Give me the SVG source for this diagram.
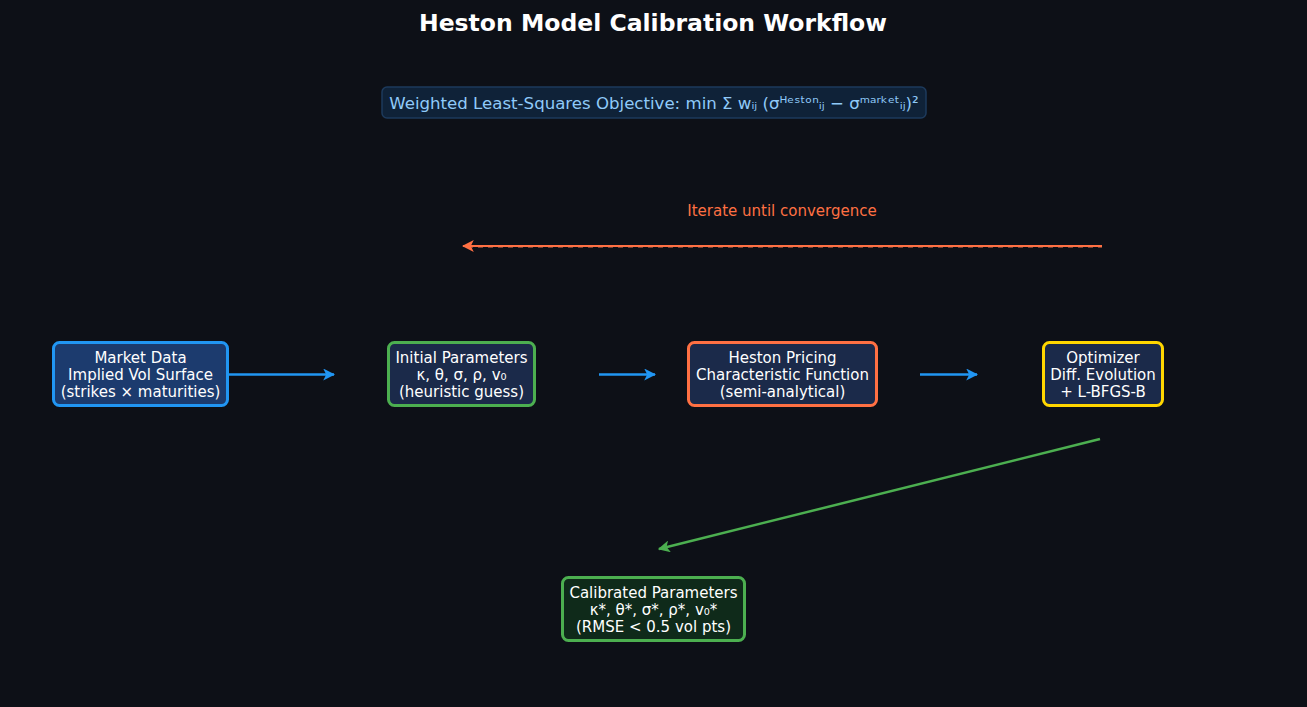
<svg xmlns="http://www.w3.org/2000/svg" width="1307" height="707" viewBox="0 0 1307 707">
<style>
text{font-family:"DejaVu Sans","Noto Sans",sans-serif;}
.t{fill:#ffffff;font-size:15px;text-anchor:middle;}
.box{stroke-width:3;}
</style>
<defs>
<marker id="ab" viewBox="0 0 10 10" refX="9" refY="5" markerWidth="12" markerHeight="12" orient="auto" markerUnits="userSpaceOnUse"><path d="M0,0 L10,5 L0,10 L2.5,5 z" fill="#2196f3"/></marker>
<marker id="ag" viewBox="0 0 10 10" refX="9" refY="5" markerWidth="12" markerHeight="12" orient="auto" markerUnits="userSpaceOnUse"><path d="M0,0 L10,5 L0,10 L2.5,5 z" fill="#4caf50"/></marker>
<marker id="ao" viewBox="0 0 10 10" refX="9" refY="5" markerWidth="12" markerHeight="12" orient="auto" markerUnits="userSpaceOnUse"><path d="M0,0 L10,5 L0,10 L2.5,5 z" fill="#ff7043"/></marker>
</defs>
<rect width="1307" height="707" fill="#0d1017"/>
<text x="653" y="31" text-anchor="middle" font-size="23.5" font-weight="bold" fill="#ffffff">Heston Model Calibration Workflow</text>
<g id="objective">
<rect x="382" y="87" width="544" height="31" rx="5" fill="#0f2238" stroke="#1d3a5c" stroke-width="1.5"/>
<text x="654" y="108.5" text-anchor="middle" font-size="16.6" fill="#90caf9">Weighted Least-Squares Objective: min Σ wᵢⱼ (σᴴᵉˢᵗᵒⁿᵢⱼ − σᵐᵃʳᵏᵉᵗᵢⱼ)²</text>
</g>
<g id="connectors">
<line x1="213" y1="374.5" x2="334" y2="374.5" stroke="#2196f3" stroke-width="2.5" marker-end="url(#ab)"/>
<line x1="599" y1="374.5" x2="655" y2="374.5" stroke="#2196f3" stroke-width="2.5" marker-end="url(#ab)"/>
<line x1="920" y1="374.5" x2="977" y2="374.5" stroke="#2196f3" stroke-width="2.5" marker-end="url(#ab)"/>
<line x1="1100" y1="439" x2="659" y2="549" stroke="#4caf50" stroke-width="2.5" marker-end="url(#ag)"/>
<line x1="468" y1="247.5" x2="1102" y2="247.5" stroke="#7a4030" stroke-width="1.2" stroke-dasharray="5,5"/>
<line x1="1102" y1="246" x2="463" y2="246" stroke="#ff7043" stroke-width="2" marker-end="url(#ao)"/>
<text x="782" y="215.5" text-anchor="middle" font-size="15" fill="#ff7043">Iterate until convergence</text>
</g>
<g id="market">
<rect class="box" x="53.5" y="342.5" width="174" height="63" rx="6" fill="#1c3b6e" stroke="#2196f3"/>
<text class="t" x="140.5" y="363">Market Data</text>
<text class="t" x="140.5" y="380">Implied Vol Surface</text>
<text class="t" x="140.5" y="397">(strikes × maturities)</text>
</g>
<g id="initial">
<rect class="box" x="388.5" y="342.5" width="146" height="63" rx="6" fill="#1b2a4a" stroke="#4caf50"/>
<text class="t" x="461.5" y="363">Initial Parameters</text>
<text class="t" x="461.5" y="380">κ, θ, σ, ρ, v₀</text>
<text class="t" x="461.5" y="397">(heuristic guess)</text>
</g>
<g id="pricing">
<rect class="box" x="688.5" y="342.5" width="188" height="63" rx="6" fill="#1b2a4a" stroke="#ff7043"/>
<text class="t" x="782.5" y="363">Heston Pricing</text>
<text class="t" x="782.5" y="380">Characteristic Function</text>
<text class="t" x="782.5" y="397">(semi-analytical)</text>
</g>
<g id="optimizer">
<rect class="box" x="1043.5" y="342.5" width="119" height="63" rx="6" fill="#1b2a4a" stroke="#ffd600"/>
<text class="t" x="1103" y="363">Optimizer</text>
<text class="t" x="1103" y="380">Diff. Evolution</text>
<text class="t" x="1103" y="397">+ L-BFGS-B</text>
</g>
<g id="calibrated">
<rect class="box" x="562.5" y="577.5" width="182" height="63" rx="6" fill="#0f2a1a" stroke="#4caf50"/>
<text class="t" x="653.5" y="598">Calibrated Parameters</text>
<text class="t" x="653.5" y="615">κ*, θ*, σ*, ρ*, v₀*</text>
<text class="t" x="653.5" y="632">(RMSE &lt; 0.5 vol pts)</text>
</g>
</svg>
